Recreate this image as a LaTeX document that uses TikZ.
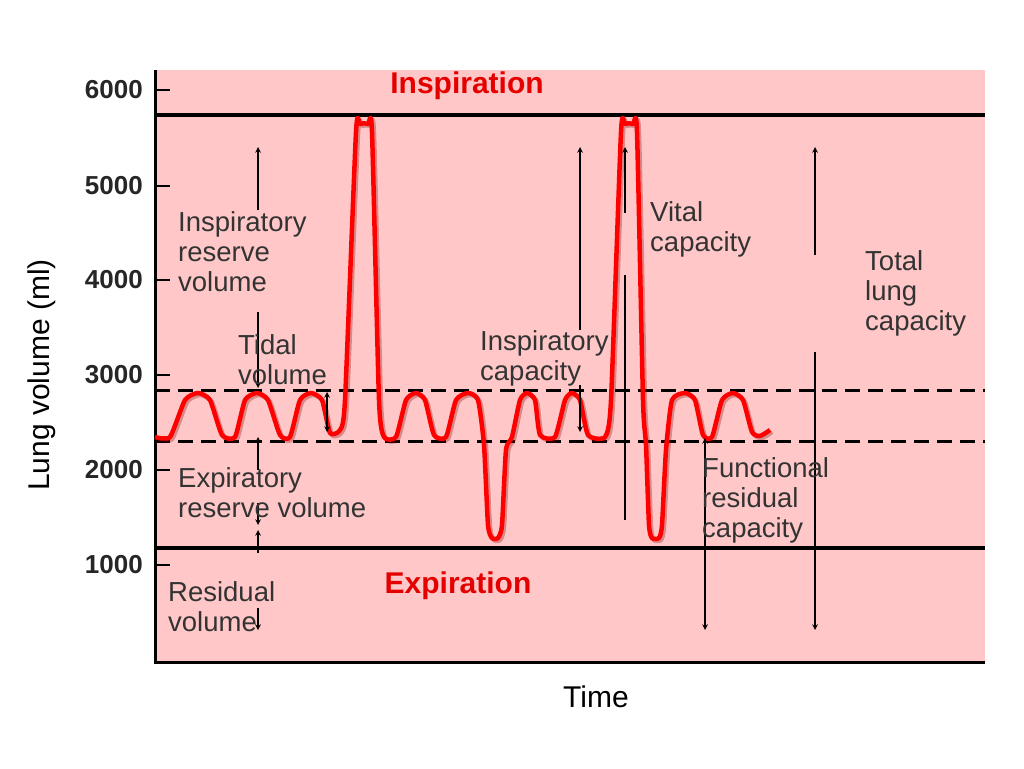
\documentclass[tikz,border=0pt]{standalone}
\usepackage{fontspec}
\setmainfont{Liberation Sans}
\begin{document}
\begin{tikzpicture}[x=1pt,y=-1pt,
  lab/.style={anchor=west,align=left,font=\fontsize{27.5}{30}\selectfont,text=black!80,inner sep=0pt},
  tick/.style={anchor=east,font=\bfseries\fontsize{26}{30}\selectfont,text=black!85,inner sep=0pt},
  big/.style={font=\bfseries\fontsize{30}{32}\selectfont,text=red!90!black,inner sep=0pt},
  arr/.style={->,>=stealth,line width=1.5pt},
  thick line/.style={line width=4pt}]
\useasboundingbox (0,0) rectangle (1024,768);
\fill[white] (0,0) rectangle (1024,768);
\fill[red!22!white] (155,70) rectangle (985,662);
\draw[line width=3pt] (155,70) -- (155,662) -- (985,662);
\foreach \v/\y in {6000/90,5000/186,4000/280,3000/375,2000/470,1000/565}{
  \draw[line width=2.5pt] (155,\y) -- (170,\y);
  \node[tick] (t\v) at (143,\y) {\v};
}
\draw[thick line] (155,115) -- (985,115);
\draw[thick line] (155,548) -- (985,548);
\draw[line width=3pt,dash pattern=on 15pt off 8pt] (155,390) -- (985,390);
\draw[line width=3pt,dash pattern=on 15pt off 8pt] (155,441) -- (985,441);
% curve
\def\curvepts{(155,437)(170,437)(185,400)(198,393)(210,400)(222,435)(235,437)(245,400)(257,393)(268,400)(280,435)(290,437)(300,400)(311,393)(322,400)(330,433)(340,430)(345,400)(356,132)(360,124)(368,124)(372,132)(379,400)(384,437)(396,437)(406,400)(416,393)(425,400)(434,435)(446,437)(456,400)(468,393)(478,400)(484,445)(488,525)(492,538)(498,538)(502,525)(506,450)(512,437)(520,400)(527,393)(535,400)(540,435)(555,437)(565,400)(572,393)(580,400)(588,435)(605,437)(611,400)(621,132)(625,124)(633,124)(637,132)(643,400)(646,445)(649,525)(652,538)(659,538)(662,525)(666,450)(672,400)(685,393)(695,400)(703,435)(712,437)(722,400)(733,393)(743,400)(752,432)(760,436)(770,430)}
\draw[red!50!black,opacity=0.3,line width=4.5pt,line join=round,xshift=2pt,yshift=-2pt] plot[smooth,tension=0.35] coordinates {\curvepts};
\draw[red,line width=4.5pt,line join=round] plot[smooth,tension=0.35] coordinates {\curvepts};
% arrows
\draw[arr] (258,210) -- (258,147);
\draw[arr] (258,312) -- (258,388);
\draw[arr,<->] (327,392) -- (327,432);
\draw[arr] (258,470) -- (258,437);
\draw[arr] (258,503) -- (258,525);
\draw[arr] (258,553) -- (258,530);
\draw[arr] (258,608) -- (258,630);
\draw[arr] (580,330) -- (580,147);
\draw[arr] (580,385) -- (580,432);
\draw[arr] (625,213) -- (625,147);
\draw[line width=1.5pt] (625,275) -- (625,520);
\draw[arr,<->] (705,438) -- (705,630);
\draw[arr] (815,255) -- (815,147);
\draw[arr] (815,352) -- (815,630);
% labels
\node[lab] (irv) at (178,252) {Inspiratory\\reserve\\volume};
\node[lab] (tv) at (238,360) {Tidal\\volume};
\node[lab] (ic) at (480,358) {Inspiratory\\capacity};
\node[lab] (vc) at (650,229) {Vital\\capacity};
\node[lab] (tlc) at (865,293) {Total\\lung\\capacity};
\node[lab] (erv) at (178,493) {Expiratory\\reserve volume};
\node[lab] (frc) at (702,500) {Functional\\residual\\capacity};
\node[lab] (rv) at (168,607) {Residual\\volume};
\node[big] (insp) at (467,86) {Inspiration};
\node[big] (exp) at (458,586) {Expiration};
\node[font=\fontsize{30}{32}\selectfont,inner sep=0pt] (time) at (596,697) {Time};
\node[font=\fontsize{30}{32}\selectfont,inner sep=0pt,rotate=90] (ylab) at (42,375) {Lung volume (ml)};
\end{tikzpicture}
\end{document}
